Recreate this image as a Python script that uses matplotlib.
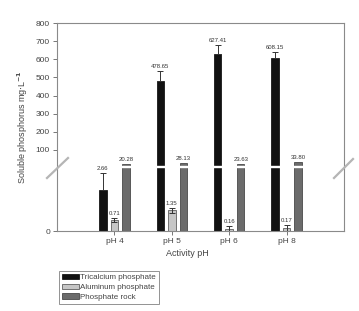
import matplotlib
matplotlib.use("Agg")
import matplotlib.pyplot as plt
import numpy as np

ph_labels = ["pH 4", "pH 5", "pH 6", "pH 8"]
series = ["Tricalcium phosphate", "Aluminum phosphate", "Phosphate rock"]
tcp = [2.66, 478.65, 627.41, 608.15]
tcp_err = [1.15, 58, 53, 33]
alp = [0.71, 1.35, 0.16, 0.17]
alp_err = [0.15, 0.15, 0.17, 0.2]
rock = [20.28, 28.13, 23.63, 33.80]
yticks = [0, 100, 200, 300, 400, 500, 600, 700, 800]

LO, HI = 4.2, 12.0  # axis break


# broken y axis: 0-4.2 at the bottom, 12-800 above, thin gap between
def fwd(v):
    v = np.asarray(v, dtype=float)
    return np.where(v <= LO, v * 15.24,
                    np.where(v <= HI, 64 + (v - LO) / (HI - LO), 65 + (v - HI) * 0.181))


def inv(y):
    y = np.asarray(y, dtype=float)
    return np.where(y <= 64, y / 15.24,
                    np.where(y <= 65, LO + (y - 64) * (HI - LO), HI + (y - 65) / 0.181))


plt.rcParams["font.family"] = "Liberation Sans"
W, H = 359, 311
fig = plt.figure(figsize=(W / 100, H / 100), dpi=100)
ax = fig.add_axes([57 / W, 1 - 231 / H, 287 / W, 208 / H])
ax.set_yscale("function", functions=(fwd, inv))

x = np.arange(len(ph_labels))
w = 0.13
colors = ["#121212", "#c6c6c6", "#6b6b6b"]
ekw = dict(ecolor="#333333", elinewidth=0.7, capsize=2, capthick=0.7)

ax.bar(x - 0.2, tcp, w, color=colors[0], edgecolor="#000000", linewidth=0.5,
       yerr=[np.zeros(4), tcp_err], error_kw=ekw, label=series[0], zorder=1)
ax.bar(x, alp, w, color=colors[1], edgecolor="#444444", linewidth=0.5,
       yerr=alp_err, error_kw=ekw, label=series[1], zorder=1)
ax.bar(x + 0.2, rock, w, color=colors[2], edgecolor="#333333", linewidth=0.5,
       label=series[2], zorder=1)

# white gap through the bars at the axis break
ax.axhspan(LO, HI, color="white", zorder=2.2)

lab = dict(ha="center", va="bottom", fontsize=4.3, color="#333333",
           textcoords="offset points")
for i in range(len(x)):
    ax.annotate(f"{tcp[i]:.2f}", (x[i] - 0.2, tcp[i] + tcp_err[i]), xytext=(0, 1.5), **lab)
    ax.annotate(f"{alp[i]:.2f}", (x[i], alp[i] + alp_err[i]), xytext=(0, 1.5), **lab)
    ax.annotate(f"{rock[i]:.2f}", (x[i] + 0.2, rock[i]), xytext=(0, 1.5), **lab)

ax.set_xlim(-1, 4)
ax.set_ylim(0, 800)
ax.set_yticks(yticks)
ax.set_xticks(x)
ax.set_xticklabels(ph_labels)
ax.tick_params(direction="out", length=3, width=0.7, color="#777777",
               labelsize=6, labelcolor="#444444", pad=2)
for s in ax.spines.values():
    s.set_color("#8a8a8a")
    s.set_linewidth(0.8)

ax.set_ylabel(r"Soluble phosphorus mg$\cdot$L$^{\mathbf{-1}}$", fontsize=6.5, color="#444444")
ax.yaxis.set_label_coords(-0.095, 0.5)
ax.set_xlabel("Activity pH", fontsize=6.5, color="#444444")
ax.xaxis.set_label_coords(0.456, -0.085)

# break marks
for (x0, y0, x1, y1) in [(47, 178, 68, 158), (334, 178, 353, 159)]:
    fig.add_artist(plt.Line2D([x0 / W, x1 / W], [1 - y0 / H, 1 - y1 / H],
                              color="#b5b5b5", lw=1.6, transform=fig.transFigure))

leg = ax.legend(loc="upper left", bbox_to_anchor=(59 / W, 1 - 271 / H),
                bbox_transform=fig.transFigure, fontsize=5.8, frameon=True,
                fancybox=False, borderpad=0.35, labelspacing=0.3,
                handlelength=2.1, handleheight=0.6, handletextpad=0.2,
                borderaxespad=0)
leg.get_frame().set_edgecolor("#777777")
leg.get_frame().set_linewidth(0.7)
for t in leg.get_texts():
    t.set_color("#444444")

fig.savefig("out.png", dpi=100)
